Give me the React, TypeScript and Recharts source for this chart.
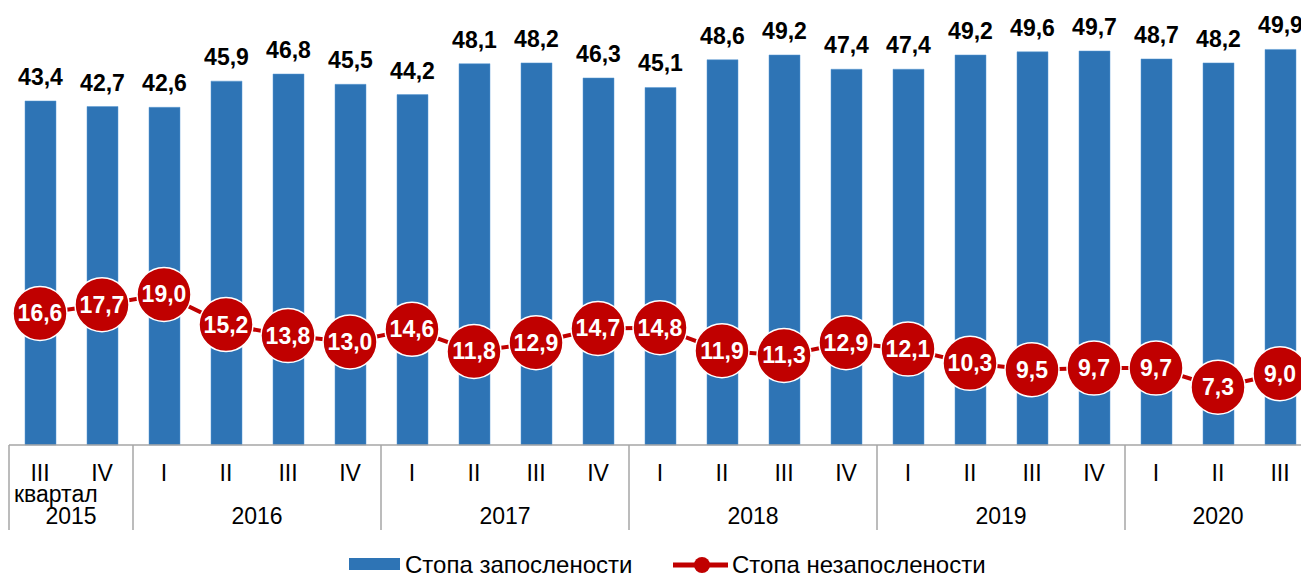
import React from "react";
import { ComposedChart, Bar, Line, XAxis, YAxis, LabelList } from "recharts";

const quarters = ["III", "IV", "I", "II", "III", "IV", "I", "II", "III", "IV", "I", "II", "III", "IV", "I", "II", "III", "IV", "I", "II", "III"];
const years = ["2015", "2015", "2016", "2016", "2016", "2016", "2017", "2017", "2017", "2017", "2018", "2018", "2018", "2018", "2019", "2019", "2019", "2019", "2020", "2020", "2020"];
const employmentRate = [43.4, 42.7, 42.6, 45.9, 46.8, 45.5, 44.2, 48.1, 48.2, 46.3, 45.1, 48.6, 49.2, 47.4, 47.4, 49.2, 49.6, 49.7, 48.7, 48.2, 49.9];
const unemploymentRate = [16.6, 17.7, 19.0, 15.2, 13.8, 13.0, 14.6, 11.8, 12.9, 14.7, 14.8, 11.9, 11.3, 12.9, 12.1, 10.3, 9.5, 9.7, 9.7, 7.3, 9.0];

const data = quarters.map((q, i) => ({
  key: `${years[i]}-${i}`,
  quarter: q,
  year: years[i],
  employed: employmentRate[i],
  unemployed: unemploymentRate[i],
}));

const FONT = "'Liberation Sans', Arial, sans-serif";
const BLUE = "#2E74B5";
const RED = "#C00000";
const CHART_W = 1313;
const CHART_H = 574;
const MARGIN = { top: 9, right: 2, left: 9, bottom: 0 };
const PLOT_H = 436;
const AXIS_Y = MARGIN.top + PLOT_H;
const BAND = (CHART_W - MARGIN.left - MARGIN.right) / data.length;

const fmt = (v: number) => v.toFixed(1).replace(".", ",");

function QuarterTick(props: any) {
  const { x, payload } = props;
  const i = payload.index;
  const d = data[i];
  const isFirst = i === 0 || data[i - 1].year !== d.year;
  let groupLen = 0;
  if (isFirst) {
    for (let j = i; j < data.length && data[j].year === d.year; j++) groupLen++;
  }
  const left = x - BAND / 2;
  return (
    <g>
      <text x={x} y={AXIS_Y + 36} textAnchor="middle" fontSize={23} fill="#000" fontFamily={FONT}>
        {d.quarter}
      </text>
      {isFirst && (
        <>
          <line x1={left} x2={left} y1={AXIS_Y} y2={AXIS_Y + 85} stroke="#A6A6A6" strokeWidth={1.5} />
          <text x={left + (groupLen * BAND) / 2} y={AXIS_Y + 79} textAnchor="middle" fontSize={23} fill="#000" fontFamily={FONT}>
            {d.year}
          </text>
        </>
      )}
      {i === 0 && (
        <text x={left + 5} y={AXIS_Y + 57} textAnchor="start" fontSize={23} fill="#000" fontFamily={FONT}>
          квартал
        </text>
      )}
    </g>
  );
}

function RateDot(props: any) {
  const { cx, cy, value, index } = props;
  if (cx == null || cy == null) return null;
  return (
    <g key={`dot-${index}`}>
      <circle cx={cx} cy={cy} r={27} fill={RED} stroke="#fff" strokeWidth={1.5} />
      <text x={cx} y={cy + 8} textAnchor="middle" fontSize={23} fontWeight="bold" fill="#fff" fontFamily={FONT}>
        {fmt(value)}
      </text>
    </g>
  );
}

export default function App() {
  const legendText: React.CSSProperties = {
    position: "absolute",
    top: 550,
    height: 30,
    lineHeight: "30px",
    fontSize: 24,
    color: "#000",
    whiteSpace: "nowrap",
  };
  return (
    <div style={{ position: "absolute", left: 0, top: 0, width: 1301, height: 574, overflow: "hidden", background: "#fff", fontFamily: FONT }}>
      <ComposedChart width={CHART_W} height={CHART_H} data={data} margin={MARGIN}>
        <XAxis
          dataKey="key"
          interval={0}
          height={CHART_H - MARGIN.top - PLOT_H}
          tickLine={false}
          axisLine={{ stroke: "#A6A6A6", strokeWidth: 1.5 }}
          tick={<QuarterTick />}
        />
        <YAxis hide domain={[0, 55]} />
        <Bar dataKey="employed" barSize={31} fill={BLUE} stroke="#5B9BD5" strokeWidth={0.5} isAnimationActive={false}>
          <LabelList
            dataKey="employed"
            position="top"
            offset={16}
            formatter={(v: any) => fmt(Number(v))}
            style={{ fontSize: 23, fontWeight: "bold", fill: "#000", fontFamily: FONT }}
          />
        </Bar>
        <Line
          dataKey="unemployed"
          stroke={RED}
          strokeWidth={4}
          dot={<RateDot />}
          activeDot={false}
          isAnimationActive={false}
        />
      </ComposedChart>
      <span style={{ position: "absolute", left: 349, top: 558, width: 51, height: 12, background: BLUE }} />
      <span style={{ ...legendText, left: 405 }}>Стопа запослености</span>
      <svg width={60} height={20} style={{ position: "absolute", left: 671, top: 555 }}>
        <line x1={2} x2={57} y1={10} y2={10} stroke={RED} strokeWidth={5} />
        <circle cx={31} cy={10} r={8} fill={RED} />
      </svg>
      <span style={{ ...legendText, left: 732 }}>Стопа незапослености</span>
    </div>
  );
}
